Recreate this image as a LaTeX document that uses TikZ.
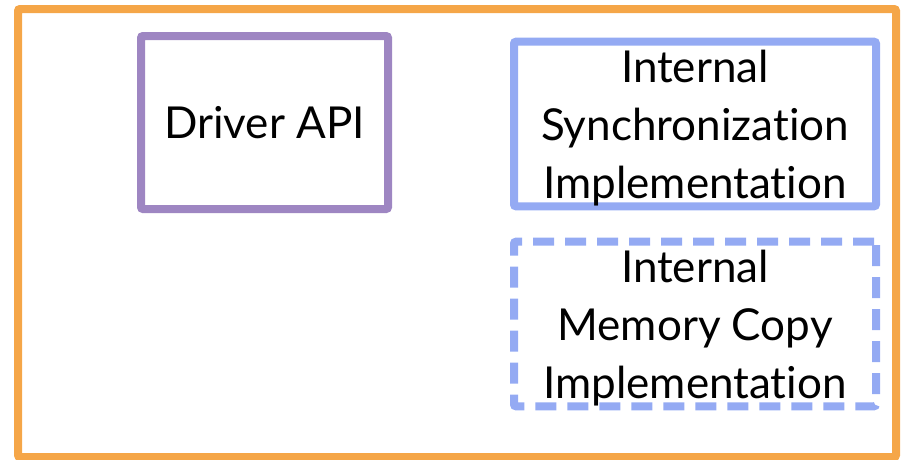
\documentclass[tikz,border=0pt]{standalone}
\usepackage{fontspec}
\setmainfont[Ligatures={NoCommon,NoContextual},Contextuals=NoAlternate]{Lato}
\definecolor{outerorange}{RGB}{245,166,72}
\definecolor{drvpurple}{RGB}{158,134,194}
\definecolor{implblue}{RGB}{148,170,243}
\newcommand{\firstlift}{\rule{0pt}{41pt}}
\begin{document}
\begin{tikzpicture}[x=1pt,y=-1pt,
  boxtext/.style={font=\fontsize{44}{58}\selectfont, align=center, inner sep=0pt, line width=8pt, rounded corners=2pt},
  drvbox/.style={boxtext, draw=drvpurple, minimum width=247pt, minimum height=173pt},
  syncbox/.style={boxtext, draw=implblue, minimum width=362pt, minimum height=160pt},
  membox/.style={syncbox, dash pattern=on 21pt off 11pt}]
\useasboundingbox (0,0) rectangle (902,459);
\draw[outerorange, line width=8pt, rounded corners=2pt] (18,9) rectangle (896,457);
\node[drvbox] (drv) at (264.5,122.5) {Driver API};
\node[syncbox] (sync) at (695,124) {\firstlift Internal\\Synchronization\\Implementation};
\node[membox] (mem) at (695,324) {\firstlift Internal\\Memory Copy\\Implementation};
\end{tikzpicture}
\end{document}
